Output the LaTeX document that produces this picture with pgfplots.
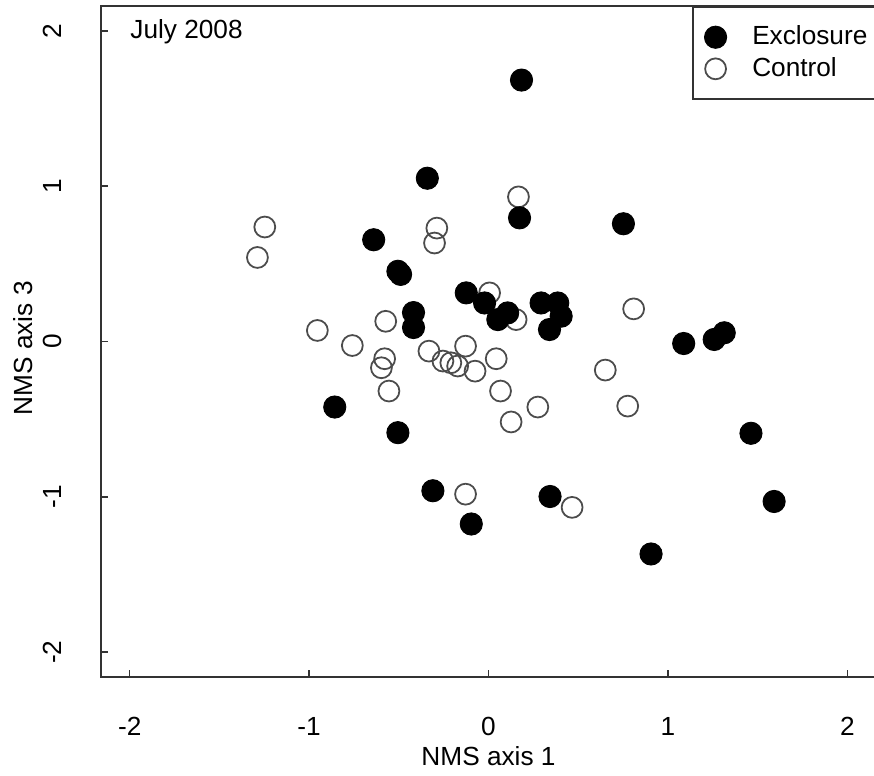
\documentclass[border=0pt]{standalone}
\usepackage{fontspec}
\setmainfont{Liberation Sans}
\usepackage{pgfplots}
\pgfplotsset{compat=1.18}
\newcommand\fs{\fontsize{11.8}{14}\selectfont}
\begin{document}
\fs
\begin{tikzpicture}
\begin{axis}[
  scale only axis,
  width=348.75pt, height=301.95pt,
  xmin=-2.16, xmax=2.16, ymin=-2.16, ymax=2.16,
  axis line style={draw=black!80, line width=0.9pt},
  xtick={-2,-1,0,1,2}, ytick={-2,-1,0,1,2},
  xticklabels={-2,-1,0,1,2}, yticklabels={-2,-1,0,1,2},
  tick pos=left,
  tick align=inside,
  major tick length=3.2pt,
  tick style={draw=black!80, line width=0.7pt},
  tick label style={font=\fs},
  xticklabel style={anchor=base, inner sep=0pt},
  xticklabel shift=26.5pt,
  yticklabel style={rotate=90, anchor=base, inner sep=0pt},
  yticklabel shift=18pt,
  every axis x label/.style={at={(axis description cs:0.5,-0.1326)}, anchor=base, inner sep=0pt, font=\fs},
  every axis y label/.style={at={(axis description cs:-0.089,0.49)}, rotate=90, anchor=base, inner sep=0pt, font=\fs},
  xlabel={NMS axis 1},
  ylabel={NMS axis 3},
  legend style={at={(axis description cs:0.7626,1)}, anchor=north west, draw=black!80, line width=0.8pt,
    inner xsep=5.2pt, inner ysep=8.5pt, row sep=3.9pt, column sep=11.5pt,
    nodes={inner sep=0pt}, font=\fs},
  legend cell align=left,
  reverse legend,
  legend image code/.code={\draw[#1] plot coordinates {(0pt,0pt)};},
]
\addplot[only marks, mark=o, mark size=4.7pt, mark options={draw=black!70, line width=0.8pt}] coordinates {
(-1.247,0.737) (-1.288,0.541) (-0.288,0.730) (-0.301,0.634) (0.167,0.931)
(-0.954,0.071) (-0.759,-0.026) (-0.573,0.130) (-0.579,-0.111) (-0.597,-0.169)
(-0.555,-0.319) (-0.332,-0.062) (-0.128,-0.030) (-0.254,-0.126) (-0.210,-0.137)
(-0.172,-0.158) (-0.075,-0.191) (0.043,-0.111) (0.067,-0.319) (0.275,-0.422)
(0.126,-0.518) (0.006,0.313) (0.154,0.141) (0.651,-0.184) (0.809,0.210)
(0.776,-0.416) (-0.128,-0.983) (0.466,-1.068)
};
\addlegendentry{Control}
\addplot[only marks, mark=*, mark size=5pt, mark options={draw=black, fill=black, line width=0.4pt}] coordinates {
(0.184,1.683) (-0.341,1.051) (-0.640,0.655) (0.173,0.796) (0.752,0.758)
(-0.505,0.452) (-0.490,0.432) (-0.418,0.186) (-0.418,0.090) (-0.124,0.313)
(-0.022,0.248) (0.052,0.141) (0.107,0.184) (0.293,0.248) (0.386,0.248)
(0.405,0.163) (0.340,0.077) (1.088,-0.013) (1.258,0.013) (1.314,0.056)
(-0.857,-0.422) (-0.505,-0.587) (1.463,-0.591) (-0.310,-0.961) (0.343,-0.998)
(-0.096,-1.175) (1.592,-1.030) (0.906,-1.368)
};
\addlegendentry{Exclosure}
\node[anchor=base west, inner sep=0pt, font=\fs] at (axis description cs:0.0374,0.9516) {July 2008};
\coordinate (bbsw) at (axis description cs:-0.13032,-0.14754);
\coordinate (bbne) at (axis description cs:0.99742,1.00894);
\end{axis}
\pgfresetboundingbox
\path[use as bounding box] (bbsw) rectangle (bbne);
\end{tikzpicture}
\end{document}
